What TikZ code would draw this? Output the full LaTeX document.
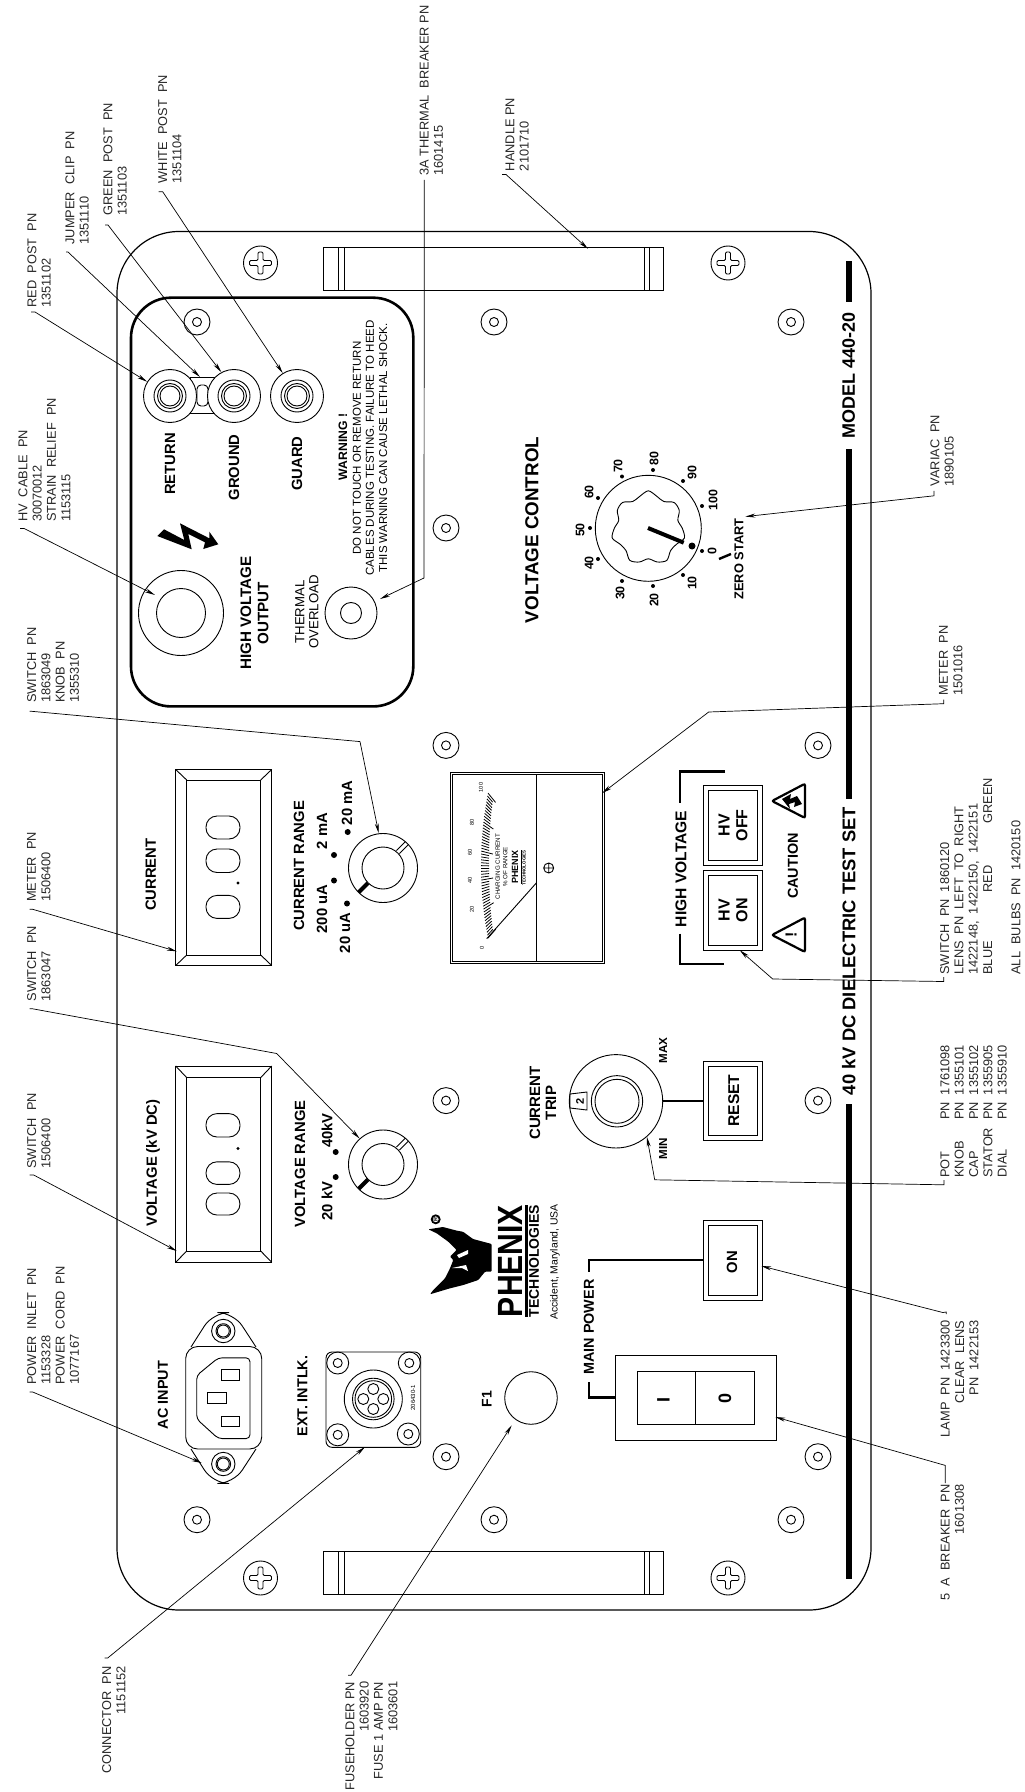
\documentclass[tikz,border=0pt]{standalone}
\usepackage{fontspec}
\setmainfont{Liberation Sans}
\usetikzlibrary{arrows.meta, calc}
\newcommand{\fsz}[1]{\fontsize{#1}{#1}\selectfont}

\begin{document}
\begin{tikzpicture}[
    x=0.5pt, y=-0.5pt,
    line width=0.45pt,
    paneltxt/.style={rotate=90, inner sep=0pt, align=center, font=\bfseries\fsz{7.4}},
    thintxt/.style={rotate=90, inner sep=0pt, align=center, font=\fsz{6.3}},
    note/.style={rotate=90, inner sep=0pt, anchor=north west, align=left, text=black!85, font=\fontsize{6.4}{7.15}\selectfont},
    noter/.style={note, anchor=north east, align=right},
    leadline/.style={-{Stealth[length=5pt,width=2pt]}, line width=0.35pt},
    heavy/.style={line width=1.1pt},
    stripe/.style={fill=black, draw=none}
  ]
  \useasboundingbox (0,0) rectangle (1024,1792);
  % panel and handles
  \draw[line width=0.6pt, rounded corners=31pt] (117,231.5) rectangle (871,1610);
  \draw[line width=1.3pt, rounded corners=20pt] (131,297.7) rectangle (413.3,706.4);
  \foreach \ya/\yb in {247/290, 1551.5/1594} {
    \draw (323,\ya) rectangle (663,\yb);
    \foreach \xa in {338,344,644,649} \draw (\xa,\ya) -- (\xa,\yb);
  }
  \foreach \sx/\sy in {260.5/263, 728/263, 260.5/1578, 728/1578} {
    \draw (\sx,\sy) circle[radius=17];
    \draw[rounded corners=0.6pt] (\sx-11,\sy-2.5) -- (\sx-2.5,\sy-2.5) -- (\sx-2.5,\sy-11) -- (\sx+2.5,\sy-11) -- (\sx+2.5,\sy-2.5) -- (\sx+11,\sy-2.5) -- (\sx+11,\sy+2.5) -- (\sx+2.5,\sy+2.5) -- (\sx+2.5,\sy+11) -- (\sx-2.5,\sy+11) -- (\sx-2.5,\sy+2.5) -- (\sx-11,\sy+2.5) -- cycle;
  }
  \foreach \sx/\sy in {197/322, 494/322, 791/322, 446/528, 446/745.4, 446/1100.6, 818/745.4, 818/1100.6, 446/1456.7, 818/1456.7, 197/1519.7, 494/1519.7, 791/1519.7} {
    \draw (\sx,\sy) circle[radius=13];
    \draw (\sx,\sy) circle[radius=4.5];
  }
  % binding posts
  \draw (190,377) rectangle (214,413);
  \draw[rounded corners=2pt] (197,385) rectangle (208,406);
  \foreach \px/\pname in {170/returnpost, 234/groundpost, 297/guardpost} {
    \node[circle, draw, fill=white, minimum size=26.5pt, inner sep=0pt] (\pname) at (\px,396) {};
    \draw (\px,396) circle[radius=16];
    \draw (\px,396) circle[radius=12.5];
    \draw (\px,396) circle[radius=10];
  }
  \node[paneltxt] (returntxt) at (170,464) {RETURN};
  \node[paneltxt] (groundtxt) at (234,467.5) {GROUND};
  \node[paneltxt] (guardtxt) at (297,463.6) {GUARD};
  \fill (157.3,536) -- (164,529.3) -- (184.3,540) -- (180,523.3) -- (209.3,538.3) -- (209.3,531.7) -- (218.3,544.3) -- (203.3,549) -- (205,542.3) -- (188.3,534) -- (191.7,549.3) -- cycle;
  \node[paneltxt, font=\bfseries\fontsize{6.1}{6.6}\selectfont] (warnhead) at (343,447) {WARNING !};
  \node[thintxt, font=\fontsize{5.75}{6.6}\selectfont] (warnbody) at (370,448) {DO NOT TOUCH OR REMOVE RETURN\\CABLES DURING TESTING. FAILURE TO HEED\\THIS WARNING CAN CAUSE LETHAL SHOCK.};
  \node[circle, draw, minimum size=42.5pt, inner sep=0pt] (hvjack) at (181,613) {};
  \draw (181,613) circle[radius=24.5];
  \node[circle, draw, minimum size=26pt, inner sep=0pt] (thermal) at (351,613) {};
  \draw (351,613) circle[radius=10.5];
  \node[paneltxt, font=\bfseries\fontsize{7.6}{8.6}\selectfont] (hvtxt) at (254.5,613) {HIGH VOLTAGE\\OUTPUT};
  \node[thintxt, font=\fontsize{6.6}{7}\selectfont] (thermtxt) at (307,612) {THERMAL\\OVERLOAD};

  % voltage control dial
  \node[paneltxt, font=\bfseries\fsz{9.4}] (voltctl) at (532,530) {VOLTAGE CONTROL};
  \draw (648.3,528.3) circle[radius=53];
  \draw plot[smooth cycle, samples at={0,15,...,345}] ({648.3+(34+3.5*cos(7*(\x-90)))*cos(\x)},{528.3-(34+3.5*cos(7*(\x-90)))*sin(\x)});
  \draw[line width=2pt] (648,528) -- (683.7,542.7);
  \fill (692,546) circle[radius=3.5];
  \foreach \dx/\dy/\tx/\ty/\val in {702/551/712/551/0, 683/575/692/583/10, 653/586/654/600/20, 622/581/620/593/30, 598/559/589/563/40, 590/528/580/530/50, 598/498/589/492/60, 622/476.5/618/466/70, 653/470/654/458.5/80, 683/481/692/472.6/90, 702/506/713/500/100} {
    \fill (\dx,\dy) circle[radius=2];
    \node[paneltxt, font=\bfseries\fsz{6.2}] at (\tx,\ty) {\val};
  }
  \draw[line width=1.2pt] (719,559) -- (731,554);
  \node[paneltxt, font=\bfseries\fsz{6.4}] (zerostart) at (739,559) {ZERO START};

  % front strip
  \fill[stripe] (845.5,261) rectangle (852,302);
  \fill[stripe] (845.5,448.5) rectangle (852,799);
  \fill[stripe] (845.5,1104) rectangle (852,1579.4);
  \node[paneltxt, font=\bfseries\fsz{9}] (modeltxt) at (848.7,375) {MODEL 440-20};
  \node[paneltxt, font=\bfseries\fsz{9.2}] (testset) at (848.7,951) {40 kV DC DIELECTRIC TEST SET};

  % digital meters
  \foreach \ya/\yb/\yc/\yd in {769.5/965.5/780/955, 1066/1262.3/1077.6/1251} {
    \draw (175.7,\ya) rectangle (271.7,\yb);
    \draw (186.7,\yc) rectangle (260.7,\yd);
    \draw (175.7,\ya) -- (186.7,\yc) (271.7,\ya) -- (260.7,\yc) (175.7,\yb) -- (186.7,\yd) (271.7,\yb) -- (260.7,\yd);
  }
  \foreach \ya/\yb in {816/839, 849/872.5, 895.4/918.4, 1113.6/1137, 1161.8/1184.4, 1193/1215}
    \draw[rounded corners=5.5pt] (206,\ya) rectangle (240,\yb);
  \draw (238,883) circle[radius=1];
  \draw (238,1148.4) circle[radius=1];
  \node[paneltxt] (currenttxt) at (150.7,874.7) {CURRENT};
  \node[paneltxt] (voltagetxt) at (153,1163) {VOLTAGE (kV DC)};

  % range switches
  \node[paneltxt] (currange) at (299,866) {CURRENT RANGE};
  \node[paneltxt] (t20ma) at (347,803) {20 mA};
  \node[paneltxt] (t2ma) at (322,831) {2 mA};
  \node[paneltxt] (t200ua) at (322,909) {200 uA};
  \node[paneltxt] (t20ua) at (345,933) {20 uA};
  \foreach \dx/\dy in {347.7/832, 334/855, 334/880.5, 347/903.5, 335.7/1152, 335.7/1177}
    \fill (\dx,\dy) circle[radius=3];
  \node[paneltxt] (volrange) at (300,1164) {VOLTAGE RANGE};
  \node[paneltxt] (t40kv) at (327,1130.6) {40kV};
  \node[paneltxt] (t20kv) at (327,1201) {20 kV};
  \foreach \ky/\kname in {868/curknob, 1164.5/volknob} {
    \node[circle, draw, minimum size=34.5pt, inner sep=0pt] (\kname) at (383,\ky) {};
    \draw (383,\ky) circle[radius=21];
    \draw[line width=2pt] (368,\ky+15) -- (358.7,\ky+24.3);
    \draw (396.5,\ky-17.5) -- (405.5,\ky-26.5) (399.5,\ky-14.5) -- (408.5,\ky-23.5);
  }

  % panel meter
  \draw (450,772) rectangle (604.7,963.5);
  \draw (452,774) rectangle (602.7,961.5);
  \draw (536.3,774) -- (536.3,961.5);
  \foreach \i in {0,...,50} {
    \pgfmathsetmacro{\tv}{\i/25-1}
    \pgfmathsetmacro{\ox}{481+7*\tv*\tv}
    \pgfmathsetmacro{\oy}{865.6+72.5*\tv}
    \pgfmathsetmacro{\ang}{atan2(868-\oy,548.7-\ox)}
    \pgfmathsetmacro{\tl}{ifthenelse(mod(\i,10)==0,12,8)}
    \draw[line width=0.4pt] (\ox,\oy) -- ++({\tl*cos(\ang)},{\tl*sin(\ang)});
  }
  \foreach \tx/\ty/\val in {482/947.5/0, 472/909/20, 470/880.5/40, 470/852.6/60, 472/822/80, 481/787.5/100}
    \node[thintxt, font=\fsz{2.8}] at (\tx,\ty) {\val};
  \draw (486.7,938.7) -- (536.3,883);
  \node[thintxt, font=\fontsize{3.1}{3.7}\selectfont] (chargetxt) at (501.5,866.7) {CHARGING CURRENT\\\% OF RANGE};
  \node[paneltxt, font=\bfseries\fsz{4.5}] (minilogo) at (517,867) {\underline{PHENIX}};
  \node[paneltxt, font=\bfseries\fsz{2.2}] (minitech) at (524,868) {TECHNOLOGIES};
  \draw (548.7,868) circle[radius=5] (543.7,868) -- (553.7,868) (548.7,863) -- (548.7,873);

  % high voltage buttons
  \draw[heavy] (725,771.4) -- (680,771.4) -- (680,803);
  \draw[heavy] (680,933.7) -- (680,963.6) -- (724,963.6);
  \node[paneltxt, font=\bfseries\fsz{7.8}] (hvlabel) at (681,869) {HIGH VOLTAGE};
  \foreach \ya/\yb/\bname in {785.6/865/hvoff, 870.6/950.2/hvon, 1061/1140.8/resetbtn, 1220.8/1300/onbtn} {
    \draw (703.7,\ya) rectangle (762,\yb);
    \draw (708.7,\ya+5) rectangle (757.7,\yb-5);
    \coordinate (\bname) at (733,{(\ya+\yb)/2});
  }
  \node[paneltxt, font=\bfseries\fontsize{8}{8.9}\selectfont] (hvofftxt) at (hvoff) {HV\\OFF};
  \node[paneltxt, font=\bfseries\fontsize{8}{8.9}\selectfont] (hvontxt) at (hvon) {HV\\ON};
  \node[paneltxt, font=\bfseries\fsz{7.8}] (resettxt) at (733.7,1100.6) {RESET};
  \node[paneltxt] (ontxt) at (732,1262.3) {ON};
  \draw[line width=1.1pt, rounded corners=1pt] (772,801) -- (805,783.7) -- (805,818) -- cycle;
  \draw[line width=1.1pt, rounded corners=1pt] (772,935) -- (805,917.6) -- (805,952) -- cycle;
  \fill (782,799) -- (791,794) -- (790,799) -- (797,796) -- (802,804) -- (794,807) -- (795,802) -- (789,804) -- (790,809) -- cycle;
  \node[paneltxt, font=\bfseries\fsz{8}] (bangtxt) at (791,935) {!};
  \node[paneltxt, font=\bfseries\fsz{7.2}] (cautiontxt) at (793,866) {CAUTION};

  % current trip pot
  \node[paneltxt, font=\bfseries\fontsize{7.5}{8}\selectfont] (triptxt) at (543,1103) {CURRENT\\TRIP};
  \node[circle, draw, minimum size=46.7pt, inner sep=0pt] (tripknob) at (616,1101.3) {};
  \draw (617,1101.3) circle[radius=25.7];
  \draw (617,1101.3) circle[radius=22];
  \draw (570,1094) -- (587,1092) -- (587,1110) -- (570,1108) -- cycle;
  \node[paneltxt, font=\bfseries\fsz{5.5}] (twotxt) at (580,1101) {2};
  \draw[heavy] (tripknob.east) -- (703.7,1101.3);
  \node[paneltxt, font=\bfseries\fsz{5.8}] (maxtxt) at (663,1050.6) {MAX};
  \node[paneltxt, font=\bfseries\fsz{5.8}] (mintxt) at (663,1149) {MIN};

  % main power
  \node[paneltxt, font=\bfseries\fsz{7.2}] (mainpower) at (589,1327) {MAIN POWER};
  \draw[heavy] (703.7,1259.6) -- (589,1259.6) -- (589,1271.7);
  \draw[heavy] (589,1382.3) -- (589,1397.4) -- (615.3,1397.4);
  \draw (615.3,1355.5) rectangle (776.3,1440.5);
  \draw (637.3,1371.4) rectangle (754.3,1424.6);
  \draw (695.7,1371.4) -- (695.7,1424.6);
  \node[paneltxt, font=\bfseries\fsz{9}] (onmark) at (663.5,1400) {I};
  \node[paneltxt, font=\bfseries\fsz{9}] (offmark) at (725,1398) {0};

  % ac inlet
  \node[paneltxt, font=\bfseries\fsz{7.2}] (acinput) at (163,1395) {AC INPUT};
  \draw[rounded corners=8pt] (191,1347) -- (213,1312.5) -- (233.5,1312.5) -- (256,1347);
  \draw[rounded corners=8pt] (191,1449) -- (213,1483.5) -- (233.5,1483.5) -- (256,1449);
  \foreach \ey in {1331,1464} {
    \draw (223.3,\ey) circle[radius=11.7];
    \draw (223.3,\ey) circle[radius=7.3];
    \draw (223.3,\ey) circle[radius=6];
  }
  \draw[rounded corners=6pt] (185.7,1346.5) rectangle (261.7,1449);
  \draw[rounded corners=2pt] (196.7,1375.5) -- (218.3,1357.8) -- (250,1357.8) -- (250,1438.6) -- (218.3,1438.6) -- (196.7,1419) -- cycle;
  \draw (221,1369) rectangle (239.3,1380.4);
  \draw (221,1416) rectangle (239.3,1426.5);
  \draw (207.3,1392.5) rectangle (226,1403.8);

  % ext interlock
  \node[paneltxt, font=\bfseries\fsz{7.2}] (extintlk) at (302.3,1396) {EXT. INTLK.};
  \draw[rounded corners=3pt] (326,1352) rectangle (420.7,1447.3);
  \foreach \hx/\hy in {337.7/1363, 409.3/1363, 337.7/1434.8, 408.3/1434} {
    \draw (\hx,\hy) circle[radius=11];
    \draw (\hx,\hy) circle[radius=4.5];
  }
  \foreach \rr in {29,20.8,18.3} \draw (373.3,1399) circle[radius=\rr];
  \foreach \hx/\hy in {373.3/1389, 383.3/1399, 373.3/1409, 363.3/1399} \draw (\hx,\hy) circle[radius=5.5];
  \node[thintxt, font=\fsz{3}] (partno) at (413,1397.7) {206430-1};

  % fuse
  \node[paneltxt, font=\bfseries\fsz{7}] (fonetxt) at (486.7,1399) {F1};
  \node[circle, draw, minimum size=26.3pt, inner sep=0pt] (fuse) at (531,1398) {};

  % logo
  \fill[rounded corners=0.5pt] (428.3,1229.3) -- (443,1227) -- (457,1230.7) -- (463,1231.7) -- (473,1239) -- (491.7,1244) -- (491.7,1271.7) -- (485,1271.7) -- (478.3,1280) -- (463.3,1285) -- (450,1288.3) -- (430,1294.3) -- (433.3,1290) -- (445,1278.3) -- (450,1268.3) -- (453.3,1260) -- (450,1256.7) -- (456.7,1250) -- (448.3,1241.7) -- (436.7,1233.3) -- cycle;
  \fill[white] (457,1255) -- (468,1250) -- (468,1254) -- (459,1258) -- cycle;
  \fill[white] (452,1268) -- (466,1265) -- (468,1271) -- (462,1268) -- cycle;
  \draw[line width=0.9pt] (435.7,1219.3) circle[radius=4];
  \node[paneltxt, font=\bfseries\fsz{2.8}] (regmark) at (435.7,1219.3) {R};
  \node[paneltxt, font=\bfseries\fsz{17.5}] (phenix) at (510,1261) {\scalebox{0.86}[1]{PHENIX}};
  \fill (525,1205) rectangle (528.3,1317);
  \node[paneltxt, font=\bfseries\fsz{7}] (technologies) at (534,1261) {TECHNOLOGIES};
  \node[thintxt, font=\fsz{5.2}] (accident) at (555,1262) {Accident, Maryland, USA};

  % callouts, top edge
  \node[note] (redpost) at (27,308) {RED~~POST~~PN\\1351102};
  \node[note] (jumper) at (65,245) {JUMPER~~CLIP~~PN\\1351110};
  \node[note] (greenpost) at (103,216) {GREEN~~POST~~PN\\1351103};
  \node[note] (whitepost) at (157.7,183.7) {WHITE~~POST~~PN\\1351104};
  \node[note] (breaker3a) at (419.3,176) {3A~THERMAL~~BREAKER~PN\\1601415};
  \node[note] (handle) at (505,171.5) {HANDLE~PN\\2101710};
  \node[note] (hvcable) at (18,522.4) {HV~~CABLE~~PN\\30070012\\STRAIN~~RELIEF~~PN\\1153115};
  \node[note] (rangesw) at (26.7,703.3) {SWITCH~~PN\\1863049\\KNOB~~PN\\1355310};
  \node[note] (dispcur) at (26.7,902.3) {METER~~PN\\1506400};
  \node[note] (volsw) at (26.7,1001.8) {SWITCH~~PN\\1863047};
  \node[note] (dispvol) at (26.7,1169) {SWITCH~~PN\\1506400};
  \node[note] (inlet) at (26.7,1385) {POWER~~INLET~~PN\\1153328\\POWER~~CORD~~PN\\1077167};
  \node[noter] (connector) at (101.7,1666) {CONNECTOR~~PN\\1151152};
  \node[noter] (fuseholder) at (345,1681.3) {FUSEHOLDER~PN\\1603920\\FUSE~1~AMP~PN\\1603601};
  % callouts, right edge
  \node[note] (variac) at (930,486.8) {VARIAC~~PN\\1890105};
  \node[note] (meter) at (938.7,695.7) {METER~~PN\\1501016};
  \node[note] (hvswitch) at (939.7,975) {SWITCH~~PN~~1860120\\LENS~~PN~~LEFT~~TO~~RIGHT\\1422148,~~1422150,~~1422151\\\makebox[41pt][l]{BLUE}\makebox[34.5pt][l]{RED}GREEN};
  \node[note] (bulbs) at (1011,975) {ALL~~BULBS~~PN~~1420150};
  \node[note] (pot) at (940,1178) {\makebox[28.8pt][l]{POT}PN~~1761098\\\makebox[28.8pt][l]{KNOB}PN~~1355101\\\makebox[28.8pt][l]{CAP}PN~~1355102\\\makebox[28.8pt][l]{STATOR}PN~~1355905\\\makebox[28.8pt][l]{DIAL}PN~~1355910};
  \node[noter] (lamp) at (940.3,1320) {LAMP~~PN~~1423300\\CLEAR~~LENS\\PN~~1422153};
  \node[noter] (breaker5a) at (940.3,1484) {5~~A~~BREAKER~~PN\\1601308};

  % leaders
  \coordinate (jumpertop) at (200,377);
  \coordinate (handletop) at (588,248.8);
  \coordinate (hvface) at (155,595);
  \coordinate (thermtip) at (380,599);
  \coordinate (dispcurtip) at (176.7,951.3);
  \coordinate (dispvoltip) at (176.7,1251);
  \coordinate (inlettip) at (201.7,1463);
  \coordinate (conntip) at (365,1447);
  \coordinate (fusetip) at (511.7,1425.4);
  \coordinate (variactip) at (745.3,516.6);
  \coordinate (metertip) at (602,793.3);
  \coordinate (hvontip) at (739.7,950.2);
  \coordinate (lamptip) at (761.3,1266);
  \coordinate (breakertip) at (775.3,1417);
  \draw[leadline] ($(redpost.north west)+(4,4)$) -- ++(4,0) -- (returnpost.148);
  \draw[leadline] ($(jumper.north west)+(1,7)$) -- ++(2,0) -- (jumpertop);
  \draw[leadline] ($(greenpost.north west)+(2,9)$) -- ++(3,0) -- (groundpost.118);
  \draw[leadline] ($(whitepost.north west)+(1,8)$) -- ++(4,0) -- (guardpost.122);
  \draw[leadline] ($(breaker3a.north west)+(5,4)$) -- (424,578) -- (thermtip);
  \draw[leadline] ($(handle.north west)+(-3,3)$) -- ++(4,0) -- (handletop);
  \draw[leadline] ($(hvcable.north west)+(2,6)$) -- ++(4,0) -- (hvface);
  \draw[leadline] ($(rangesw.north west)+(3,8)$) -- ++(2,0) -- (360,741.6) -- (curknob.97);
  \draw[leadline] ($(dispcur.north west)+(3,7)$) -- ++(3,0) -- (dispcurtip);
  \draw[leadline] ($(volsw.north west)+(3,7)$) -- ++(3,0) -- (276.7,1053.5) -- (volknob.132);
  \draw[leadline] ($(dispvol.north west)+(3,6)$) -- ++(4,0) -- (dispvoltip);
  \draw[leadline] ($(inlet.north west)+(3,7)$) -- ++(3,0) -- (inlettip);
  \draw[leadline] ($(connector.north east)+(3,-8)$) -- ++(3,0) -- (conntip);
  \draw[leadline] ($(fuseholder.north east)+(3,-6)$) -- ++(3,0) -- (fusetip);
  \draw[leadline] ($(variac.north west)+(4,4)$) -- ++(0,5) -- (variactip);
  \draw[leadline] ($(meter.north west)+(5,4)$) -- ++(0,4) -- (708.7,712) -- (metertip);
  \draw[leadline] ($(hvswitch.north west)+(4,2)$) -- ++(0,4.5) -- (772.7,979) -- (hvontip);
  \draw[leadline] ($(pot.north west)+(4,2)$) -- ++(0,4.8) -- (654.7,1179.8) -- (tripknob.-49);
  \draw[leadline] ($(lamp.north east)+(6,-6)$) -- ++(0,-2) -- ++(-3.5,0.5) -- (lamptip);
  \draw[leadline] ($(breaker5a.north east)+(5,-1)$) -- ++(0,-17.6) -- (breakertip);
  \end{tikzpicture}
\end{document}
